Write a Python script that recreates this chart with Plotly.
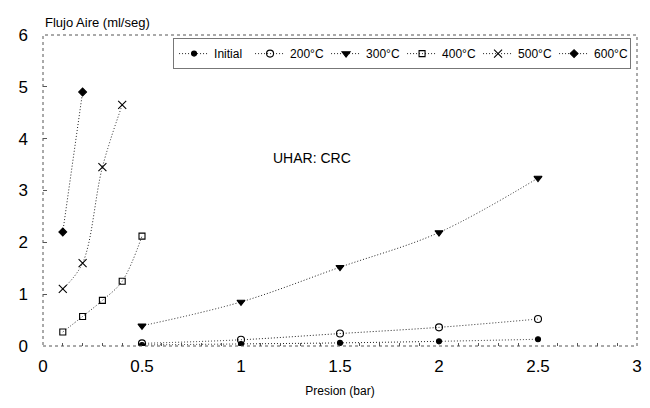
import plotly.graph_objects as go

names = ["Initial", "200°C", "300°C", "400°C", "500°C", "600°C"]
x_low = [0.5, 1.0, 1.5, 2.0, 2.5]
initial = [0.02, 0.04, 0.06, 0.09, 0.13]
t200 = [0.05, 0.12, 0.24, 0.36, 0.52]
t300 = [0.39, 0.85, 1.52, 2.19, 3.24]
x400 = [0.1, 0.2, 0.3, 0.4, 0.5]
t400 = [0.27, 0.57, 0.88, 1.25, 2.12]
x500 = [0.1, 0.2, 0.3, 0.4]
t500 = [1.1, 1.6, 3.45, 4.65]
x600 = [0.1, 0.2]
t600 = [2.2, 4.9]

xs = [x_low, x_low, x_low, x400, x500, x600]
ys = [initial, t200, t300, t400, t500, t600]
symbols = ["circle", "circle-open", "triangle-down", "square-open", "x-thin-open", "diamond"]
sizes = [5, 7, 7, 6, 8, 6]

fig = go.Figure()
for n, xv, yv, s, sz in zip(names, xs, ys, symbols, sizes):
    fig.add_trace(go.Scatter(
        x=xv, y=yv, name=n, mode="lines+markers",
        line=dict(color="#222", width=1, dash="1px,2px", shape="spline"),
        marker=dict(symbol=s, size=sz, color="black", line=dict(color="black", width=1.1)),
    ))

fig.update_layout(
    width=650, height=408,
    margin=dict(l=35, r=21, t=27, b=70),
    paper_bgcolor="white", plot_bgcolor="white",
    font=dict(family="Liberation Sans, Arial, sans-serif", color="black"),
    showlegend=True,
    legend=dict(orientation="h", x=0.99, xanchor="right", y=0.99, yanchor="top",
                bordercolor="#777", borderwidth=1, bgcolor="white",
                font=dict(size=12), itemwidth=30, tracegroupgap=0,
                entrywidth=31, entrywidthmode="pixels"),
    xaxis=dict(range=[0, 3], dtick=0.5, showgrid=False, zeroline=False, automargin=False,
               tickfont=dict(size=17), ticks="", showline=False, ticklabelstandoff=8,
               title=dict(text="Presion (bar)", font=dict(size=12), standoff=11),
               minor=dict(dtick=0.1, ticks="inside", ticklen=3, tickcolor="#555")),
    yaxis=dict(range=[0, 6], dtick=1, showgrid=False, zeroline=False, automargin=False,
               tickfont=dict(size=17), ticks="inside", ticklen=4, tickcolor="#555",
               ticklabelstandoff=14, showline=False),
    shapes=[dict(type="rect", xref="paper", yref="paper", x0=0, y0=0, x1=1, y1=1,
                 line=dict(color="#555", width=1, dash="dot"))],
    annotations=[
        dict(text="Flujo Aire (ml/seg)", xref="paper", yref="paper", x=0.0, y=1.0,
             xanchor="left", yanchor="bottom", yshift=3, showarrow=False, font=dict(size=13)),
        dict(text="UHAR: CRC", x=1.36, y=3.63, showarrow=False, font=dict(size=14)),
    ],
)

fig.write_html("out.html")
